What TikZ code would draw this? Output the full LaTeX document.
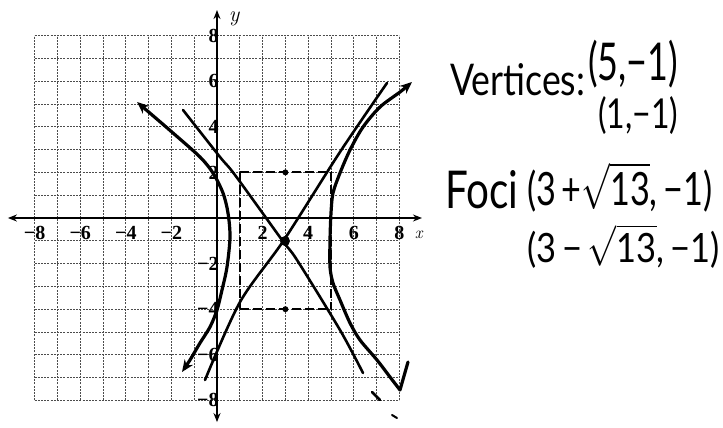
\documentclass[tikz,border=0pt]{standalone}
\usepackage{fontspec}
\usetikzlibrary{arrows.meta}
\newfontfamily\hand{Lato}
\newfontfamily\tickfont{Liberation Serif}
\tikzset{
  gridline/.style={line width=0.7pt, black!70, dash pattern=on 2pt off 1.2pt},
  axisline/.style={line width=1.6pt, black, {Stealth[length=9pt,width=7pt]}-{Stealth[length=9pt,width=7pt]}},
  branch/.style={line width=3.2pt, black, line cap=round, line join=round},
  asym/.style={line width=2.6pt, black, line cap=round},
  boxdash/.style={line width=2pt, black, dash pattern=on 9pt off 4pt},
  ticklab/.style={font=\tickfont\fontsize{20}{20}\selectfont\bfseries, inner sep=1pt},
  handtxt/.style={font=\hand, inner sep=0pt}
}
\begin{document}
\begin{tikzpicture}[x=1pt,y=-1pt]
\useasboundingbox (0,0) rectangle (723,428);
\fill[white] (0,0) rectangle (723,428);
% graph in units
\begin{scope}[shift={(217pt,-218pt)}, x=22.8pt, y=22.8pt]
  \foreach \i in {-8,...,8} {
    \draw[gridline] (\i,-8) -- (\i,8);
    \draw[gridline] (-8,\i) -- (8,\i);
  }
  \draw[axisline] (-9.17,0) -- (8.99,0);
  \draw[axisline] (0,-8.95) -- (0,9.12);
  \node[font=\itshape\fontsize{22}{22}\selectfont] (ylab) at (0.75,8.75) {y};
  \node[font=\itshape\fontsize{17}{17}\selectfont] (xlab) at (8.85,-0.75) {x};
  \foreach \v in {-8,-6,-4,-2} {
    \node[ticklab] (xt\v) at (\v,-0.65) {−\the\numexpr-\v\relax};
    \node[ticklab, anchor=east] (yt\v) at (0.12,\v) {−\the\numexpr-\v\relax};
  }
  \foreach \v in {2,4,6,8} {
    \node[ticklab] (xt\v) at (\v,-0.65) {\v};
    \node[ticklab, anchor=east] (yt\v) at (0.12,\v) {\v};
  }
  % fundamental rectangle
  \draw[boxdash] (1,2) -- (5,2);
  \draw[boxdash] (1,-4) -- (5,-4);
  \draw[boxdash] (1,2) -- (1,-4);
  \draw[boxdash] (5,2) -- (5,-4);
  \fill (3,2) circle (3pt);
  \fill (3,-4) circle (3pt);
\end{scope}
% asymptotes (pixel coordinates)
\draw[asym] plot[smooth] coordinates {(205,380) (240,302) (284,240) (340,152) (387,83)};
\draw[asym] plot[smooth] coordinates {(183,110) (220,157) (235,175) (282,240) (297,260) (340,330) (363,373)};
\draw[asym] (372,392) -- (380,400);
\draw[line width=2pt, line cap=round] (392,415) -- (397,418);
% hyperbola branches
\draw[branch, {Stealth[length=12pt,width=10pt]}-{Stealth[length=12pt,width=10pt]}] plot[smooth] coordinates {(137,102) (173,133) (200,157) (213,173) (223,193) (228,213) (230,237) (227,267) (222,290) (217,310) (210,327) (200,343) (190,360) (182,372)};
\draw[branch, {Stealth[length=12pt,width=10pt]}-] plot[smooth] coordinates {(412,82) (400,92) (380,107) (363,127) (350,150) (340,173) (333,193) (331,213) (330,240) (330,267) (333,283) (340,300) (350,323) (360,340) (377,360) (390,377) (400,390)};
\draw[branch] (400,390) -- (408,362);
% centre
\fill (285,241) circle (5pt);
% handwritten notes
\node[handtxt, anchor=base west] (vert) at (450,95) {\resizebox{135pt}{32pt}{Vertices:}};
\node[handtxt, anchor=north west] (v1) at (588,40) {\resizebox*{90pt}{48pt}{(5,−1)}};
\node[handtxt, anchor=north west] (v2) at (598,96) {\resizebox*{80pt}{38pt}{(1,−1)}};
\node[handtxt, anchor=base west] (foci) at (445,208) {\resizebox{73pt}{38pt}{Foci}};
\node[handtxt, anchor=north west] (f1) at (527,162) {\resizebox*{185pt}{50pt}{(3\,+\(\sqrt{\mbox{13}}\),\,−1)}};
\node[handtxt, anchor=north west] (f2) at (527,224) {\resizebox*{192pt}{44pt}{(3\,−\,\(\sqrt{\mbox{13}}\),\,−1)}};
\end{tikzpicture}
\end{document}
